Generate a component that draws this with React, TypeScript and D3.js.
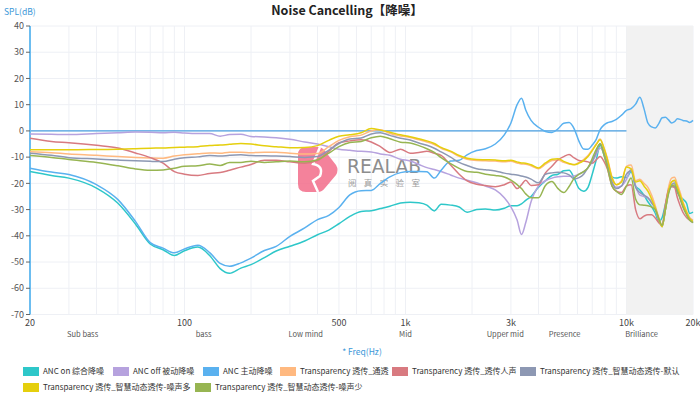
import React from "react";
import * as d3 from "d3";

const freqs = [
  20, 25, 30, 40, 50, 60, 70, 80, 90, 100, 115, 130, 145, 160, 180, 200, 230, 260, 300, 350,
  400, 450, 500, 560, 630, 700, 770, 850, 950, 1050, 1150, 1250, 1350, 1450, 1600, 1750, 1900, 2100, 2300, 2550,
  2800, 3000, 3200, 3350, 3500, 3700, 4000, 4300, 4600, 4900, 5200, 5500, 5800, 6100, 6400, 6700, 7000, 7300, 7600, 7900,
  8200, 8600, 9000, 9500, 10000, 10500, 11000, 11500, 12000, 12500, 13000, 13500, 14000, 14500, 15000, 15500, 16000, 16500, 17000, 17500,
  18000, 18700, 19300, 20000,
];

const ancOn = [
  -15.5, -17.0, -18.0, -21.8, -27.6, -35.5, -43.1, -45.3, -47.5, -45.7, -44.3, -47.5, -52.5, -54.3, -52.3, -51.0, -48.3, -45.8, -44.0, -42.0,
  -39.6, -37.8, -35.4, -32.6, -30.7, -30.4, -29.6, -28.7, -27.5, -27.2, -27.4, -28.3, -30.5, -28.0, -28.3, -29.0, -31.0, -30.0, -29.8, -30.2,
  -29.5, -28.5, -28.5, -27.8, -26.5, -25.0, -21.5, -19.0, -17.0, -16.5, -15.2, -15.0, -18.0, -22.0, -23.0, -21.5, -16.5, -11.0, -5.5, -9.0,
  -13.5, -17.5, -18.0, -17.5, -17.8, -15.5, -21.0, -22.5, -24.5, -27.0, -29.0, -31.4, -34.5, -33.0, -28.0, -23.0, -21.2, -21.3, -23.5, -25.0,
  -26.0, -27.6, -31.5, -31.0,
];

const ancOff = [
  -1.2, -1.3, -1.4, -1.0, -0.7, -0.4, -0.5, -0.7, -0.5, -0.8, -1.0, -1.0, -2.0, -1.4, -1.3, -2.1, -2.3, -2.6, -3.2, -4.2,
  -5.0, -6.0, -7.0, -7.4, -7.8, -8.0, -8.8, -9.3, -10.8, -11.5, -12.8, -14.0, -14.7, -15.5, -16.8, -18.0, -18.8, -19.8, -21.0, -22.5,
  -25.5, -29.0, -34.0, -39.5, -35.0, -27.0, -21.0, -19.0, -18.0, -17.5, -17.3, -17.3, -17.2, -16.5, -15.5, -14.0, -11.8, -9.0, -6.5, -8.5,
  -13.5, -19.5, -21.5, -21.0, -18.5, -14.5, -21.0, -24.5, -25.0, -25.5, -27.0, -30.0, -34.0, -36.0, -30.0, -22.0, -19.5, -19.0, -22.0, -25.5,
  -28.5, -31.5, -33.5, -34.0,
];

const ancActive = [
  -14.2, -15.7, -16.6, -20.5, -26.2, -34.5, -42.6, -44.7, -46.5, -45.0, -43.6, -46.4, -50.5, -51.6, -50.3, -48.5, -45.6, -44.0, -40.2, -37.0,
  -33.8, -32.2, -29.2, -24.4, -22.8, -22.7, -20.0, -17.5, -15.9, -15.5, -15.5, -15.6, -18.0, -15.0, -11.5, -11.2, -9.1, -7.5, -6.8, -5.0,
  -1.5, 3.0, 10.0, 12.5, 8.0, 4.0, 1.4, -0.2, -0.6, 0.8, 2.9, 3.2, 0.8, -4.0, -6.9, -7.0, -5.4, -3.2, 0.5, 2.2,
  3.1, 3.6, 4.4, 6.0, 7.8, 8.5, 10.2, 12.8, 8.5, 3.0, 1.5, 1.1, 2.8, 5.0, 5.2, 4.2, 3.0, 3.5, 4.6, 4.4,
  4.0, 3.8, 3.2, 4.0,
];

const transAware = [
  -7.9, -8.3, -8.8, -9.3, -9.8, -10.1, -10.3, -10.4, -9.6, -9.1, -8.7, -8.4, -8.5, -8.1, -8.1, -8.3, -8.1, -8.1, -8.5, -8.8,
  -8.6, -6.0, -3.6, -2.2, -1.6, 0.0, 0.4, -1.0, -1.9, -2.5, -3.4, -4.2, -5.2, -6.6, -8.0, -9.7, -10.8, -11.3, -11.4, -11.5,
  -11.8, -11.6, -12.2, -12.6, -12.7, -13.3, -14.4, -12.7, -11.3, -11.1, -12.0, -12.6, -12.8, -12.0, -10.9, -9.4, -7.2, -5.0, -3.1, -6.2,
  -10.5, -17.5, -20.5, -19.0, -13.5, -13.0, -19.0, -18.4, -20.0, -21.5, -24.5, -28.5, -33.0, -36.0, -29.0, -21.5, -18.0, -17.7, -20.5, -23.5,
  -27.0, -30.5, -33.0, -34.0,
];

const transVoice = [
  -2.8, -4.0, -4.5, -5.5, -6.5, -8.4, -10.2, -12.3, -15.5, -16.5, -17.0, -16.2, -15.9, -15.0, -13.8, -12.8, -11.2, -11.2, -11.8, -12.3,
  -11.3, -7.8, -4.5, -3.8, -3.4, -4.2, -6.0, -8.2, -7.0, -8.5, -8.2, -7.8, -8.5, -9.3, -13.0, -16.5, -19.0, -20.3, -20.8, -21.3,
  -20.5, -19.5, -22.0, -20.5, -18.8, -20.8, -20.5, -16.0, -13.5, -11.0, -9.8, -9.0, -10.3, -11.3, -11.5, -11.8, -12.3, -11.0, -9.8, -11.5,
  -14.5, -21.0, -23.0, -23.5, -21.0, -20.5, -30.0, -33.5, -32.5, -32.0, -32.0, -33.2, -35.0, -36.0, -28.0, -22.5, -21.2, -21.5, -25.5, -28.5,
  -31.0, -33.0, -34.0, -34.8,
];

const transDefault = [
  -8.5, -9.3, -10.2, -10.7, -11.1, -11.4, -11.6, -11.7, -10.8, -10.2, -9.9, -9.4, -9.6, -9.3, -9.1, -9.4, -9.5, -9.6, -9.8, -10.1,
  -9.8, -7.3, -4.8, -3.1, -2.7, -1.2, -0.7, -1.7, -2.8, -3.5, -4.6, -5.5, -6.6, -8.0, -10.0, -12.0, -13.2, -14.4, -14.8, -15.3,
  -16.1, -16.5, -16.8, -17.2, -17.6, -18.4, -19.8, -16.5, -16.0, -15.8, -16.0, -16.8, -18.3, -17.8, -16.5, -14.0, -11.5, -8.0, -4.8, -8.0,
  -12.5, -19.5, -22.0, -21.0, -16.5, -15.2, -21.5, -23.5, -24.5, -25.5, -27.5, -29.5, -33.5, -36.5, -30.0, -23.5, -20.5, -19.9, -22.5, -25.5,
  -28.5, -31.5, -33.5, -35.0,
];

const transNoisy = [
  -7.2, -7.2, -7.2, -7.1, -7.0, -6.8, -6.6, -6.5, -6.3, -6.2, -6.0, -5.6, -5.4, -5.1, -4.8, -5.0, -5.7, -6.0, -6.4, -6.3,
  -5.6, -3.6, -2.0, -1.5, -0.7, 0.9, 0.3, -0.5, -1.5, -2.2, -3.0, -3.8, -4.8, -6.3, -7.7, -9.4, -10.4, -10.9, -11.0, -11.1,
  -11.4, -11.2, -11.8, -12.2, -12.3, -12.9, -14.1, -12.2, -10.8, -10.6, -11.6, -12.4, -12.9, -12.3, -11.3, -9.8, -7.5, -5.2, -3.4, -6.5,
  -11.0, -18.0, -20.5, -19.5, -13.8, -14.5, -19.5, -19.0, -21.0, -23.0, -26.0, -29.5, -33.5, -36.5, -30.0, -23.0, -19.5, -18.8, -21.5, -24.5,
  -27.5, -31.0, -33.5, -34.5,
];

const transQuiet = [
  -9.4, -10.1, -10.9, -12.0, -13.3, -14.5, -15.0, -14.9, -14.2, -13.5, -13.3, -12.6, -13.2, -12.0, -12.0, -11.6, -12.0, -11.8, -11.5, -11.8,
  -11.0, -8.5, -6.0, -4.4, -4.0, -2.6, -2.0, -3.0, -4.3, -4.6, -5.6, -6.8, -8.2, -10.2, -12.5, -14.3, -15.5, -15.8, -16.5, -17.0,
  -17.6, -18.8, -20.5, -22.0, -24.0, -25.5, -25.5, -20.8, -19.3, -22.0, -23.5, -21.2, -18.0, -16.5, -15.5, -14.0, -10.5, -7.0, -5.0, -9.0,
  -14.0, -21.0, -23.0, -24.2, -21.0, -18.0, -26.0, -28.2, -28.3, -28.5, -29.0, -30.0, -33.5, -36.0, -30.0, -24.0, -21.0, -20.6, -23.0, -26.0,
  -29.0, -32.0, -34.0, -35.0,
];

const seriesNames = [
  "ANC on 综合降噪",
  "ANC off 被动降噪",
  "ANC 主动降噪",
  "Transparency 透传_通透",
  "Transparency 透传_透传人声",
  "Transparency 透传_智慧动态透传-默认",
  "Transparency 透传_智慧动态透传-噪声多",
  "Transparency 透传_智慧动态透传-噪声少",
];
const seriesValues = [ancOn, ancOff, ancActive, transAware, transVoice, transDefault, transNoisy, transQuiet];
const seriesColors = ["#2ec7c9", "#b6a2de", "#5ab1ef", "#ffb980", "#d87a80", "#8d98b3", "#e5cf0d", "#97b552"];

const xTickValues = [20, 100, 500, 1000, 3000, 10000, 20000];
const xTickLabels = ["20", "100", "500", "1k", "3k", "10k", "20k"];
const bandNames = ["Sub bass", "bass", "Low mind", "Mid", "Upper mid", "Presence", "Brilliance"];
const bandCenters = [34.6, 122, 354, 1000, 2828, 5250, 11700];
const yTicks = [40, 30, 20, 10, 0, -10, -20, -30, -40, -50, -60, -70];
const shadedRange = [10000, 20000];

const W = 700;
const H = 418;
const FONT = "'Noto Sans CJK SC', 'Noto Sans', sans-serif";

// legend layout (positions)
const legendPos = [
  [23, 367], [113, 367], [203, 367], [280, 367], [392, 367], [520, 367],
  [23, 383], [195, 383],
];

export default function App() {
  const x = d3.scaleLog().domain([20, 20000]).range([30, 693]);
  const y = d3.scaleLinear().domain([-70, 40]).range([314.5, 26]);
  const gridX = x.ticks();
  const line = d3
    .line<number>()
    .x((_, i) => x(freqs[i]))
    .y((v) => y(v))
    .curve(d3.curveMonotoneX);

  return (
    <svg
      width={W}
      height={H}
      style={{ position: "absolute", left: 0, top: 0, background: "#fff" }}
      fontFamily={FONT}
    >
      <rect x={0} y={0} width={W} height={H} fill="#fff" />
      {/* grid */}
      {yTicks.map((t) => (
        <line key={"gy" + t} x1={x(20)} x2={x(20000)} y1={y(t)} y2={y(t)} stroke="#eef0f5" strokeWidth={1} />
      ))}
      {gridX.map((f, i) => (
        <line key={"gx" + i} x1={x(f)} x2={x(f)} y1={y(40)} y2={y(-70)} stroke="#eef0f5" strokeWidth={1} />
      ))}
      {/* zero line */}
      <line x1={x(20)} x2={x(20000)} y1={y(0)} y2={y(0)} stroke="#4a9fe0" strokeWidth={1.2} />
      {/* shaded region */}
      <rect
        x={x(shadedRange[0])}
        y={y(40)}
        width={x(shadedRange[1]) - x(shadedRange[0])}
        height={y(-70) - y(40)}
        fill="#f2f2f2"
      />
      {/* y axis */}
      <line x1={x(20)} x2={x(20)} y1={y(40)} y2={y(-70)} stroke="#6cbdf0" strokeWidth={2} />
      {yTicks.map((t) => (
        <g key={"yt" + t}>
          <line x1={x(20) - 4} x2={x(20)} y1={y(t)} y2={y(t)} stroke="#666" strokeWidth={1} />
          <text x={x(20) - 6} y={y(t)} dy="0.35em" textAnchor="end" fontSize={9} fill="#555">
            {t}
          </text>
        </g>
      ))}
      {/* x tick labels */}
      {xTickValues.map((f, i) => (
        <text key={"xt" + f} x={x(f)} y={326} textAnchor="middle" fontSize={9} fill="#444">
          {xTickLabels[i]}
        </text>
      ))}
      {bandCenters.map((f, i) => (
        <text key={"bl" + i} x={x(f)} y={337} textAnchor="middle" fontSize={7.5} fill="#555">
          {bandNames[i]}
        </text>
      ))}
      <text x={362} y={355} textAnchor="middle" fontSize={8.5} fill="#3a97d8">
        * Freq(Hz)
      </text>
      <text x={4} y={15} fontSize={8.5} fill="#3a97d8">
        SPL(dB)
      </text>
      <text x={347} y={14.5} textAnchor="middle" fontSize={12.5} fontWeight="bold" fill="#222">
        Noise Cancelling【降噪】
      </text>

      {/* watermark */}
      <g opacity={0.85}>
        <path
          d="M 306 147 L 318 147 Q 322 147 325 151 L 336 165 Q 339 170 336 175 L 325 188 Q 322 192 318 192 L 306 192 Q 298 192 298 184 L 298 155 Q 298 147 306 147 Z"
          fill="#f36d8a"
        />
        <path
          d="M 320 147 L 313 164 Q 324 166 320 176 L 313 181 L 318 192"
          fill="none"
          stroke="#fff"
          strokeWidth={2.5}
        />
        <text x={347} y={173} fontSize={19} fill="#7a7a7a" textLength={74} lengthAdjust="spacingAndGlyphs" fontFamily="'DejaVu Sans', sans-serif">
          REALAB
        </text>
        <text x={348} y={186} fontSize={8.5} fill="#8a8a8a" textLength={72} lengthAdjust="spacing">
          阅真实验室
        </text>
      </g>

      {/* series */}
      {seriesValues.map((vals, i) => (
        <path key={"s" + i} d={line(vals) || ""} fill="none" stroke={seriesColors[i]} strokeWidth={1.5} />
      ))}

      {/* legend */}
      {seriesNames.map((name, i) => (
        <g key={"lg" + i} transform={`translate(${legendPos[i][0]},${legendPos[i][1]})`}>
          <rect x={0} y={0} width={16} height={9} fill={seriesColors[i]} />
          <text x={20} y={4.5} dy="0.35em" fontSize={8} fill="#333">
            {name}
          </text>
        </g>
      ))}
    </svg>
  );
}
